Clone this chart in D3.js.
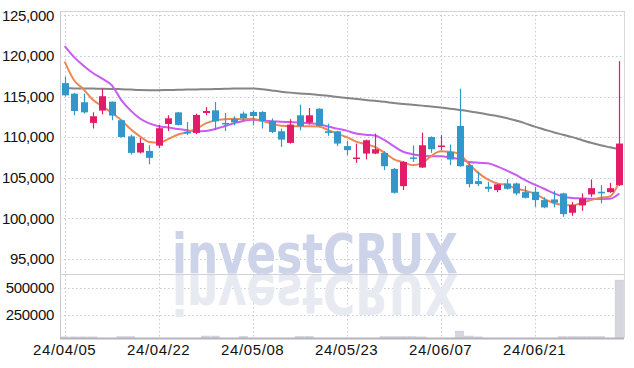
<!DOCTYPE html>
<html>
<head>
<meta charset="utf-8">
<script src="https://cdn.jsdelivr.net/npm/d3@7"></script>
<style>
  body { margin: 0; background: #fff; }
  svg { display: block; }
  text { font-family: "Liberation Sans Narrow", "Liberation Sans", sans-serif; }
</style>
</head>
<body>
<div id="chart"></div>
<script>
const dates = [
  "24/04/05","24/04/08","24/04/09","24/04/11","24/04/12","24/04/15","24/04/16","24/04/17","24/04/18","24/04/19",
  "24/04/22","24/04/23","24/04/24","24/04/25","24/04/26","24/04/29","24/04/30","24/05/02","24/05/03","24/05/07",
  "24/05/08","24/05/09","24/05/10","24/05/13","24/05/14","24/05/16","24/05/17","24/05/20","24/05/21","24/05/22",
  "24/05/23","24/05/24","24/05/27","24/05/28","24/05/29","24/05/30","24/05/31","24/06/03","24/06/04","24/06/05",
  "24/06/07","24/06/10","24/06/11","24/06/12","24/06/13","24/06/14","24/06/17","24/06/18","24/06/19","24/06/20",
  "24/06/21","24/06/24","24/06/25","24/06/26","24/06/27","24/06/28","24/07/01","24/07/02","24/07/03","24/07/04"
];
const opens = [
  116650,115350,114300,111750,113270,114370,112080,110100,108110,108300,
  108950,111620,113050,110650,110520,112970,113300,111750,112240,112900,
  113100,113100,112000,110720,109290,112690,111790,113500,110720,110720,
  108900,107320,107980,107980,108060,106090,103970,107500,106260,110020,
  108800,108180,111380,106550,104580,103890,103480,104300,104300,103230,
  103270,102250,102330,103070,100690,101600,102950,103270,103230,104090
];
const highs = [
  117450,115450,115350,113060,115980,114400,112150,110300,109900,109000,
  111500,112700,113100,111850,112900,113700,114320,112970,112570,113150,
  113300,113200,112300,111060,112200,114000,113590,113550,111670,110800,
  109530,109210,109700,110440,108270,106200,107050,108970,110560,110100,
  110230,109090,115970,106950,105730,104500,104250,104830,104400,103970,
  103880,102600,103390,103150,102000,103070,104790,104090,104370,119360
];
const lows = [
  115000,112700,112900,111060,112800,112080,109950,107850,108000,106650,
  108650,110750,111450,110250,110350,112700,110850,110760,111460,111950,
  111450,111060,110500,108800,109200,110850,111550,111300,110150,108920,
  107780,106830,107250,107900,105930,103050,103480,106950,106200,108060,
  108390,106550,106350,103810,103970,103270,103220,103550,102860,102450,
  101430,101250,101350,100200,100320,100930,102650,101840,103150,104000
];
const closes = [
  115150,113220,113050,112570,115040,112650,110020,108060,109290,107450,
  111100,112320,111500,110450,112730,113220,111950,111600,111830,112320,
  112600,111990,110640,109700,111550,111340,112690,111380,110520,109210,
  108400,107490,109620,108510,106420,103150,106950,107400,109000,108510,
  108970,107240,106420,104220,104220,103640,104180,103640,103070,102530,
  102250,101350,101920,100530,101630,102450,103720,103150,103720,109210
];
const volumes = [
  42000,42000,42000,42000,30000,28000,45000,45000,28000,26000,
  27000,27000,28000,27000,28000,50000,50000,28000,27000,47000,
  27000,26000,27000,28000,27000,47000,47000,28000,27000,26000,
  27000,28000,26000,27000,45000,45000,45000,45000,42000,28000,
  27000,28000,96000,50000,42000,28000,27000,26000,28000,27000,
  27000,28000,26000,45000,45000,45000,45000,45000,28000,574000
];
// moving averages (short, mid, long)
const ma5 = [
  119300,117000,115900,114600,113800,113000,112100,111000,110100,109400,
  109300,109750,110300,110600,111000,111700,112050,112200,112250,112200,
  112250,112000,111650,111400,111350,111350,111350,111300,110900,110400,
  110000,109450,109150,108800,108100,107300,106900,106550,106800,107700,
  108250,108200,107900,106700,105600,104800,104300,104100,103700,103400,
  103050,102400,101900,101650,101600,101900,102250,102550,102700,104500
];
const ma20 = [
  121200,119850,118800,117900,117200,116400,114600,113300,112300,111700,
  111350,111200,111000,110850,110700,110750,111000,111350,111700,112000,
  112150,112050,111950,111900,111850,111800,111700,111600,111300,111050,
  110800,110450,110300,110200,109650,108900,108200,107900,107700,107650,
  107650,107500,107300,106950,106850,106800,106400,105900,105350,104700,
  104150,103650,103100,102700,102500,102450,102400,102380,102400,103050
];
const ma60 = [
  116050,116000,116000,115980,115960,115940,115900,115850,115800,115780,
  115780,115800,115820,115850,115870,115900,115920,115950,115980,116000,
  116000,115900,115750,115600,115480,115380,115300,115200,115100,114950,
  114820,114700,114580,114470,114350,114200,114080,113980,113880,113780,
  113650,113500,113350,113200,113000,112800,112600,112350,112050,111700,
  111300,110950,110600,110300,110000,109650,109300,109000,108750,108500
];
const priceTicks = [95000, 100000, 105000, 110000, 115000, 120000, 125000];
const volumeTicks = [250000, 500000];
const dateTicks = ["24/04/05","24/04/22","24/05/08","24/05/23","24/06/07","24/06/21"];

const width = 634, height = 368;
const padLeft = 60, padRight = 624, padTop = 11, priceBottom = 274, volBottom = 338;

const upColor = "#e31c6a", downColor = "#3497c9";
const gridColor = "#c4c8dc";

const svg = d3.select("#chart").append("svg")
  .attr("width", width)
  .attr("height", height);

const x = d3.scaleBand()
  .domain(dates)
  .range([padLeft, padRight])
  .padding(0);

const y = d3.scaleLinear()
  .domain([93150, 125530])
  .range([priceBottom, padTop]);

const yVol = d3.scaleLinear()
  .domain([31800, 631000])
  .range([volBottom, priceBottom]);

const cx = d => x(d) + x.bandwidth() / 2;

const defs = svg.append("defs");
defs.append("clipPath").attr("id", "priceClip")
  .append("rect").attr("x", padLeft).attr("y", padTop)
  .attr("width", padRight - padLeft).attr("height", priceBottom - padTop);
defs.append("clipPath").attr("id", "volClip")
  .append("rect").attr("x", padLeft).attr("y", priceBottom)
  .attr("width", padRight - padLeft).attr("height", volBottom - priceBottom);

// grid
const grid = svg.append("g")
  .attr("stroke", gridColor)
  .attr("stroke-width", 1)
  .attr("stroke-dasharray", "1.5,2.5");
grid.selectAll(".hp").data(priceTicks).enter().append("line")
  .attr("x1", padLeft).attr("x2", padRight)
  .attr("y1", d => Math.round(y(d)) + 0.5).attr("y2", d => Math.round(y(d)) + 0.5);
grid.selectAll(".hv").data(volumeTicks).enter().append("line")
  .attr("x1", padLeft).attr("x2", padRight)
  .attr("y1", d => Math.round(yVol(d)) + 0.5).attr("y2", d => Math.round(yVol(d)) + 0.5);
grid.selectAll(".vx").data(dateTicks).enter().append("line")
  .attr("x1", d => Math.round(cx(d)) + 0.5).attr("x2", d => Math.round(cx(d)) + 0.5)
  .attr("y1", padTop).attr("y2", volBottom);

// watermark, with its mirror image under the price pane
const wmFont = "'DejaVu Sans', 'Liberation Sans', sans-serif";
const wm = svg.append("g");
wm.append("text")
  .attr("x", 172).attr("y", priceBottom - 1)
  .attr("textLength", 286).attr("lengthAdjust", "spacingAndGlyphs")
  .style("font-family", wmFont)
  .style("font-weight", "bold").style("font-size", "56px")
  .attr("fill", "#cdd3e8")
  .text("investCRUX");
wm.append("text")
  .attr("x", 172).attr("y", -(priceBottom + 1))
  .attr("transform", "scale(1,-1)")
  .attr("textLength", 286).attr("lengthAdjust", "spacingAndGlyphs")
  .style("font-family", wmFont)
  .style("font-weight", "bold").style("font-size", "56px")
  .attr("fill", "#e8eaf2")
  .text("investCRUX");

// volume bars
const bw = x.bandwidth();
svg.append("g").attr("clip-path", "url(#volClip)")
  .selectAll("rect").data(volumes).enter().append("rect")
  .attr("x", (d, i) => x(dates[i]) + 0.5)
  .attr("width", bw - 1)
  .attr("y", d => yVol(d))
  .attr("height", d => Math.max(0, volBottom - yVol(d)))
  .attr("fill", "#d6d6de")
  .attr("stroke", "#c8c8d2")
  .attr("stroke-width", 0.5);

// frame
const frame = svg.append("g").attr("fill", "none");
frame.append("line").attr("x1", padLeft).attr("x2", padRight).attr("y1", padTop + 0.5).attr("y2", padTop + 0.5)
  .attr("stroke", "#d4d4de");
frame.append("line").attr("x1", padLeft).attr("x2", padRight).attr("y1", priceBottom + 0.5).attr("y2", priceBottom + 0.5)
  .attr("stroke", "#cfd0da");
frame.append("line").attr("x1", padLeft + 0.5).attr("x2", padLeft + 0.5).attr("y1", padTop).attr("y2", volBottom)
  .attr("stroke", "#c9cad8");
frame.append("line").attr("x1", padRight + 0.5).attr("x2", padRight + 0.5).attr("y1", padTop).attr("y2", volBottom)
  .attr("stroke", "#d8d8e2");
frame.append("line").attr("x1", padLeft).attr("x2", padRight).attr("y1", volBottom + 0.5).attr("y2", volBottom + 0.5)
  .attr("stroke", "#b4b4be").attr("stroke-width", 2);

// moving average lines
const plot = svg.append("g").attr("clip-path", "url(#priceClip)");
const maLine = d3.line()
  .x((d, i) => cx(dates[i]))
  .y(d => y(d))
  .curve(d3.curveMonotoneX);
[[ma60, "#858585"], [ma20, "#c95af2"], [ma5, "#ee8753"]].forEach(function (s) {
  plot.append("path")
    .datum(s[0])
    .attr("fill", "none")
    .attr("stroke", s[1])
    .attr("stroke-width", 2)
    .attr("d", maLine);
});

// candles
const candles = plot.selectAll(".candle").data(dates).enter().append("g");
candles.append("line")
  .attr("x1", d => Math.round(cx(d)) + 0.5)
  .attr("x2", d => Math.round(cx(d)) + 0.5)
  .attr("y1", (d, i) => y(highs[i]))
  .attr("y2", (d, i) => y(lows[i]))
  .attr("stroke", (d, i) => closes[i] >= opens[i] ? upColor : downColor)
  .attr("stroke-width", 1.2);
candles.append("rect")
  .attr("x", d => Math.round(cx(d)) + 0.5 - 3.5)
  .attr("width", 7)
  .attr("y", (d, i) => y(Math.max(opens[i], closes[i])))
  .attr("height", (d, i) => Math.max(1.5, Math.abs(y(opens[i]) - y(closes[i]))))
  .attr("fill", (d, i) => closes[i] >= opens[i] ? upColor : downColor);

// axes
const yAxis = svg.append("g")
  .attr("transform", `translate(${padLeft - 6},0)`)
  .call(d3.axisLeft(y).tickValues(priceTicks).tickFormat(d3.format(",")).tickSize(0).tickPadding(0));
const vAxis = svg.append("g")
  .attr("transform", `translate(${padLeft - 6},0)`)
  .call(d3.axisLeft(yVol).tickValues(volumeTicks).tickFormat(d3.format("d")).tickSize(0).tickPadding(0));
const xAxis = svg.append("g")
  .attr("transform", `translate(0,${volBottom + 4})`)
  .call(d3.axisBottom(x).tickValues(dateTicks).tickSize(0).tickPadding(2));
[yAxis, vAxis, xAxis].forEach(function (a) {
  a.select(".domain").remove();
  a.selectAll("text")
    .style("font-family", "'Liberation Sans Narrow', 'Liberation Sans', sans-serif")
    .style("font-size", "15px")
    .attr("fill", "#111");
});
xAxis.selectAll("text").style("letter-spacing", "0.6px");
yAxis.selectAll("text").style("letter-spacing", "-0.3px");
vAxis.selectAll("text").style("letter-spacing", "-0.3px");
</script>
</body>
</html>
